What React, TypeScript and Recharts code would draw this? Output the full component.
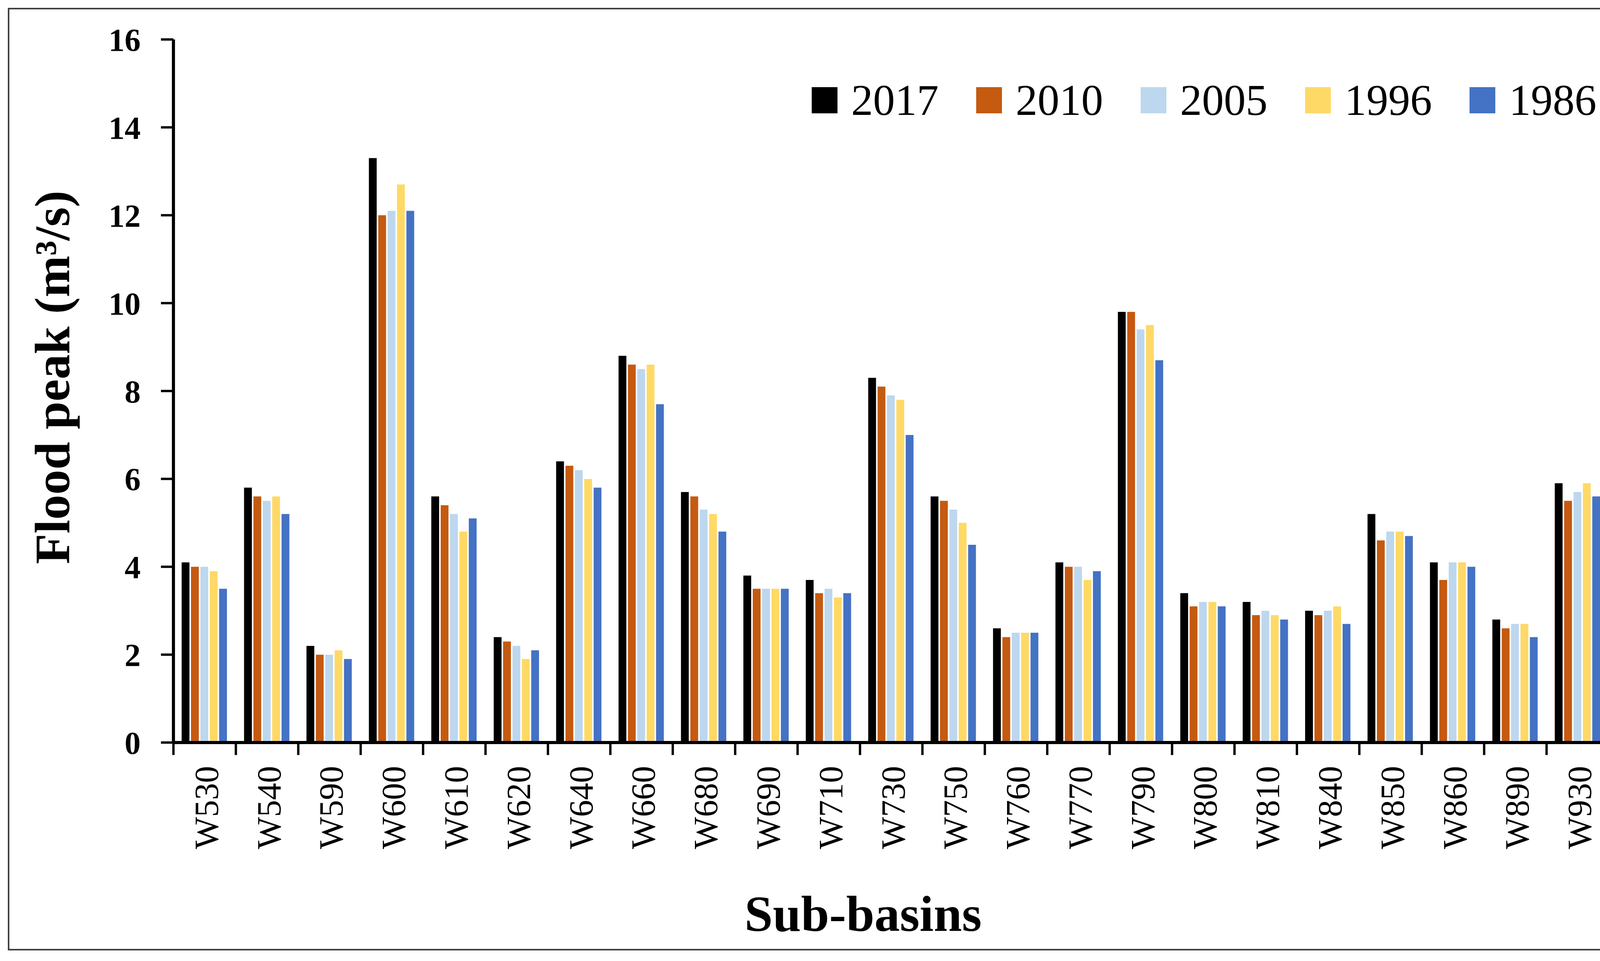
import React from 'react';
import { BarChart, Bar, XAxis, YAxis, Legend, Label } from 'recharts';

const CATEGORIES = [
  'W530', 'W540', 'W590', 'W600', 'W610', 'W620', 'W640', 'W660', 'W680', 'W690', 'W710', 'W730',
  'W750', 'W760', 'W770', 'W790', 'W800', 'W810', 'W840', 'W850', 'W860', 'W890', 'W930',
];

const Y2017 = [4.1, 5.8, 2.2, 13.3, 5.6, 2.4, 6.4, 8.8, 5.7, 3.8, 3.7, 8.3, 5.6, 2.6, 4.1, 9.8, 3.4, 3.2, 3.0, 5.2, 4.1, 2.8, 5.9];
const Y2010 = [4.0, 5.6, 2.0, 12.0, 5.4, 2.3, 6.3, 8.6, 5.6, 3.5, 3.4, 8.1, 5.5, 2.4, 4.0, 9.8, 3.1, 2.9, 2.9, 4.6, 3.7, 2.6, 5.5];
const Y2005 = [4.0, 5.5, 2.0, 12.1, 5.2, 2.2, 6.2, 8.5, 5.3, 3.5, 3.5, 7.9, 5.3, 2.5, 4.0, 9.4, 3.2, 3.0, 3.0, 4.8, 4.1, 2.7, 5.7];
const Y1996 = [3.9, 5.6, 2.1, 12.7, 4.8, 1.9, 6.0, 8.6, 5.2, 3.5, 3.3, 7.8, 5.0, 2.5, 3.7, 9.5, 3.2, 2.9, 3.1, 4.8, 4.1, 2.7, 5.9];
const Y1986 = [3.5, 5.2, 1.9, 12.1, 5.1, 2.1, 5.8, 7.7, 4.8, 3.5, 3.4, 7.0, 4.5, 2.5, 3.9, 8.7, 3.1, 2.8, 2.7, 4.7, 4.0, 2.4, 5.6];

const Y_TICKS = [0, 2, 4, 6, 8, 10, 12, 14, 16];

const SERIES = [
  { key: 's2017', name: '2017', color: '#000000', values: Y2017 },
  { key: 's2010', name: '2010', color: '#C55A11', values: Y2010 },
  { key: 's2005', name: '2005', color: '#BDD7EE', values: Y2005 },
  { key: 's1996', name: '1996', color: '#FFD966', values: Y1996 },
  { key: 's1986', name: '1986', color: '#4472C4', values: Y1986 },
];

const data = CATEGORIES.map((name, i) => {
  const row: Record<string, string | number> = { name };
  SERIES.forEach((s) => {
    row[s.key] = s.values[i];
  });
  return row;
});

// layout
const W = 4265;
const H = 2459;
const MARGIN = { top: 101, right: 146, left: 0, bottom: 0 };
const Y_AXIS_W = 444;
const X_AXIS_H = 559;
const PLOT_W = W - MARGIN.left - MARGIN.right - Y_AXIS_W;
const BAND = PLOT_W / CATEGORIES.length;
const FONT = '"Liberation Serif", "Times New Roman", serif';

const XTick = (props: any) => {
  const { x, y, payload, index } = props;
  const half = BAND / 2;
  const ty = y + 60;
  return (
    <g>
      <line x1={x - half} x2={x - half} y1={y} y2={y + 32} stroke="#000" strokeWidth={6} />
      {index === CATEGORIES.length - 1 && (
        <line x1={x + half} x2={x + half} y1={y} y2={y + 32} stroke="#000" strokeWidth={6} />
      )}
      <text
        x={x}
        y={ty}
        dy={34}
        transform={`rotate(-90, ${x}, ${ty})`}
        textAnchor="end"
        fontFamily={FONT}
        fontSize={87}
        fill="#000"
      >
        {payload.value}
      </text>
    </g>
  );
};

const seriesOrder = (v: string) => SERIES.findIndex((s) => s.name === v);

const LegendContent = (props: any) => {
  const items = [...(props.payload || [])].sort((a: any, b: any) => seriesOrder(a.value) - seriesOrder(b.value));
  return (
    <div style={{ display: 'flex', alignItems: 'center', fontFamily: FONT, fontSize: 112, color: '#000' }}>
      {items.map((p: any, i: number) => (
        <div key={p.value} style={{ display: 'flex', alignItems: 'center', width: i < items.length - 1 ? 421 : 'auto' }}>
          <span style={{ display: 'inline-block', width: 66, height: 67, background: p.color, marginRight: 35 }} />
          <span style={{ lineHeight: 1 }}>{p.value}</span>
        </div>
      ))}
    </div>
  );
};

export default function App() {
  return (
    <div style={{ position: 'absolute', left: 0, top: 0, width: W, height: H, background: '#fff', overflow: 'hidden' }}>
      <div
        style={{
          position: 'absolute',
          left: 20,
          top: 20,
          width: 4204,
          height: 2412,
          border: '4px solid #404040',
          boxSizing: 'border-box',
        }}
      />
      <div style={{ position: 'absolute', left: 0, top: 0 }}>
        <BarChart width={W} height={H} data={data} margin={MARGIN} barCategoryGap={21} barGap={4}>
          <XAxis
            dataKey="name"
            height={X_AXIS_H}
            interval={0}
            tickSize={0}
            tickMargin={0}
            tickLine={false}
            axisLine={{ stroke: '#000', strokeWidth: 8 }}
            tick={<XTick />}
          >
            <Label
              content={(p: any) => {
                const vb = p.viewBox;
                return (
                  <text
                    x={vb.x + vb.width / 2 - 72}
                    y={2382}
                    textAnchor="middle"
                    fontFamily={FONT}
                    fontWeight="bold"
                    fontSize={130}
                    fill="#000"
                  >
                    Sub-basins
                  </text>
                );
              }}
            />
          </XAxis>
          <YAxis
            width={Y_AXIS_W}
            domain={[0, 16]}
            ticks={Y_TICKS}
            interval={0}
            tickSize={32}
            tickMargin={52}
            axisLine={{ stroke: '#000', strokeWidth: 8 }}
            tickLine={{ stroke: '#000', strokeWidth: 6 }}
            tick={{ fontFamily: FONT, fontWeight: 'bold', fontSize: 82, fill: '#000' }}
          >
            <Label
              content={(p: any) => {
                const vb = p.viewBox;
                const cx = 177;
                const cy = vb.y + vb.height / 2 - 35;
                return (
                  <text
                    x={cx}
                    y={cy}
                    transform={`rotate(-90, ${cx}, ${cy})`}
                    textAnchor="middle"
                    fontFamily={FONT}
                    fontWeight="bold"
                    fontSize={128}
                    fill="#000"
                  >
                    Flood peak (m³/s)
                  </text>
                );
              }}
            />
          </YAxis>
          <Legend
            layout="horizontal"
            verticalAlign="middle"
            align="center"
            content={<LegendContent />}
            wrapperStyle={{ left: 2078, top: 200, width: 2100, height: 67 }}
          />
          {SERIES.map((s) => (
            <Bar key={s.key} dataKey={s.key} name={s.name} fill={s.color} isAnimationActive={false} />
          ))}
        </BarChart>
      </div>
    </div>
  );
}
